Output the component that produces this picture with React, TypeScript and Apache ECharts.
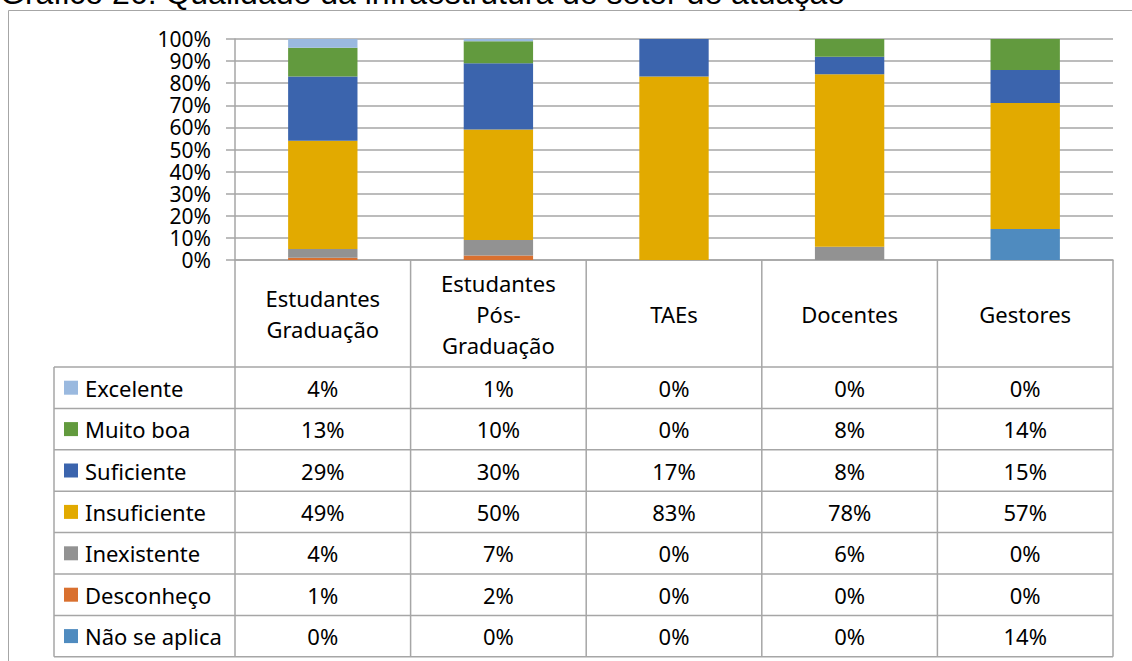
import React, { useEffect, useRef } from "react";
import * as echarts from "echarts";

const titleText = "Gráfico 26: Qualidade da infraestrutura do setor de atuação";
const categories = ["Estudantes\nGraduação", "Estudantes\nPós-\nGraduação", "TAEs", "Docentes", "Gestores"];

// Series in table order (top to bottom); bars stack in reverse order
const seriesNames = ["Excelente", "Muito boa", "Suficiente", "Insuficiente", "Inexistente", "Desconheço", "Não se aplica"];
const excelente = [4, 1, 0, 0, 0];
const muitoBoa = [13, 10, 0, 8, 14];
const suficiente = [29, 30, 17, 8, 15];
const insuficiente = [49, 50, 83, 78, 57];
const inexistente = [4, 7, 0, 6, 0];
const desconheco = [1, 2, 0, 0, 0];
const naoSeAplica = [0, 0, 0, 0, 14];
const seriesValues = [excelente, muitoBoa, suficiente, insuficiente, inexistente, desconheco, naoSeAplica];
const seriesColors = ["#9ab9df", "#629a3e", "#3b64ad", "#e2aa00", "#929292", "#d9702f", "#4f8bbf"];

const W = 1132;
const H = 661;
const GL = 235;
const GR = 1113;
const GT = 39;
const GB = 260;
const HEADER_BOTTOM = 367;
const ROW_H = 41.4;
const LEG_LEFT = 54;
const LINE = "#a6a6a6";
const FONT = "'Noto Sans', 'DejaVu Sans', sans-serif";
const FS = 22;

export default function App() {
  const ref = useRef<HTMLDivElement>(null);
  useEffect(() => {
    if (!ref.current) return;
    const chart = echarts.init(ref.current, null, { renderer: "svg" });
    const n = categories.length;
    const colW = (GR - GL) / n;
    const graphics: any[] = [];

    // outer frame
    graphics.push({
      type: "polyline",
      shape: { points: [[8.5, H + 5], [8.5, 10.5], [W + 5, 10.5]] },
      style: { stroke: LINE, lineWidth: 1, fill: "none" },
      silent: true,
    });
    // title (partly cut off at top)
    graphics.push({
      type: "text",
      x: 0,
      y: -7,
      style: { text: titleText, fill: "#000", fontSize: 32, fontFamily: "'Liberation Sans', Arial, sans-serif", align: "left", verticalAlign: "middle" },
      silent: true,
    });

    const tableBottom = HEADER_BOTTOM + ROW_H * seriesNames.length;
    // column lines
    for (let i = 0; i <= n; i++) {
      const x = GL + colW * i;
      graphics.push({
        type: "line",
        shape: { x1: x, y1: GB, x2: x, y2: tableBottom },
        style: { stroke: LINE, lineWidth: 1.5 },
        silent: true,
      });
    }
    // left line of legend column
    graphics.push({
      type: "line",
      shape: { x1: LEG_LEFT, y1: HEADER_BOTTOM, x2: LEG_LEFT, y2: tableBottom },
      style: { stroke: LINE, lineWidth: 1.5 },
      silent: true,
    });
    // row lines
    for (let r = 0; r <= seriesNames.length; r++) {
      const y = HEADER_BOTTOM + ROW_H * r;
      graphics.push({
        type: "line",
        shape: { x1: LEG_LEFT, y1: y, x2: GR, y2: y },
        style: { stroke: LINE, lineWidth: 1.5 },
        silent: true,
      });
    }
    // header texts
    categories.forEach((c, i) => {
      graphics.push({
        type: "text",
        x: GL + colW * (i + 0.5),
        y: (GB + HEADER_BOTTOM) / 2,
        style: { text: c, fill: "#000", fontSize: FS, fontFamily: FONT, align: "center", verticalAlign: "middle", lineHeight: 31 },
        silent: true,
      });
    });
    // rows
    seriesNames.forEach((name, r) => {
      const cy = HEADER_BOTTOM + ROW_H * (r + 0.5);
      graphics.push({
        type: "rect",
        shape: { x: 64, y: cy - 7, width: 14, height: 14 },
        style: { fill: seriesColors[r] },
        silent: true,
      });
      graphics.push({
        type: "text",
        x: 85,
        y: cy,
        style: { text: name, fill: "#000", fontSize: FS, fontFamily: FONT, align: "left", verticalAlign: "middle" },
        silent: true,
      });
      seriesValues[r].forEach((v, i) => {
        graphics.push({
          type: "text",
          x: GL + colW * (i + 0.5),
          y: cy,
          style: { text: v + "%", fill: "#000", fontSize: FS, fontFamily: FONT, align: "center", verticalAlign: "middle" },
          silent: true,
        });
      });
    });

    const series = seriesNames
      .map((name, r) => ({
        name,
        type: "bar",
        stack: "total",
        data: seriesValues[r],
        barWidth: "39.5%",
        itemStyle: { color: seriesColors[r] },
        emphasis: { disabled: true },
      }))
      .reverse();

    chart.setOption({
      animation: false,
      backgroundColor: "#fff",
      grid: { left: GL, right: W - GR, top: GT, bottom: H - GB, containLabel: false },
      xAxis: {
        type: "category",
        data: categories,
        axisLabel: { show: false },
        axisTick: { show: false },
        axisLine: { show: true, lineStyle: { color: LINE, width: 1.5 } },
        splitLine: { show: false },
      },
      yAxis: {
        type: "value",
        min: 0,
        max: 100,
        interval: 10,
        axisLabel: { formatter: "{value}%", fontSize: 21, lineHeight: 21, color: "#000", fontFamily: FONT, margin: 24 },
        axisTick: { show: true, length: 9, lineStyle: { color: LINE, width: 1.5 } },
        axisLine: { show: true, lineStyle: { color: LINE, width: 1.5 } },
        splitLine: { show: true, lineStyle: { color: LINE, width: 1.5 } },
      },
      series,
      graphic: graphics,
    });
    return () => chart.dispose();
  }, []);
  return <div ref={ref} style={{ position: "absolute", left: 0, top: 0, width: W, height: H }} />;
}
